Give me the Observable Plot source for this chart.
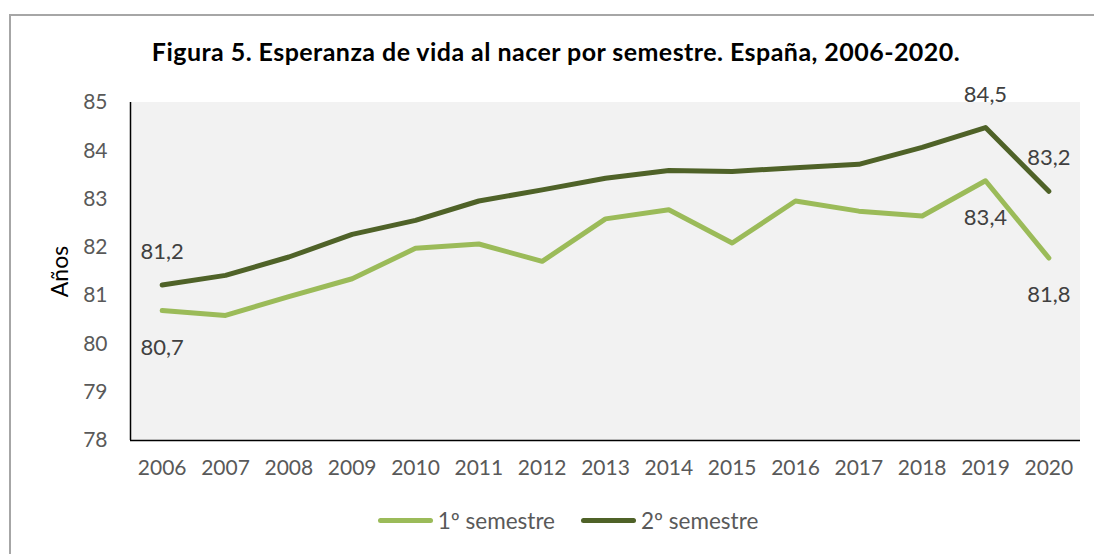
<!DOCTYPE html>
<html>
<head>
<meta charset="utf-8">
<script src="https://cdn.jsdelivr.net/npm/d3@7"></script>
<script src="https://cdn.jsdelivr.net/npm/@observablehq/plot@0.6"></script>
<style>
  html, body { margin: 0; padding: 0; background: #fff; }
  #wrap { position: relative; width: 1094px; height: 554px; overflow: hidden; font-family: Lato, "Open Sans", sans-serif; }
  #border { position: absolute; left: 9px; top: 14px; width: 1200px; height: 700px; border-top: 2px solid #A6A6A6; border-left: 2px solid #A6A6A6; box-sizing: border-box; }
  #title { position: absolute; left: 0; width: 1112px; top: 36px; text-align: center; font-weight: bold; font-size: 25px; letter-spacing: 0.45px; color: #000; white-space: nowrap; }
  #chart { position: absolute; left: 0; top: 0; }
  #legend { position: absolute; left: 0; top: 507px; width: 1094px; display: flex; justify-content: center; align-items: center; font-size: 22.5px; color: #595959; padding-left: 42px; box-sizing: border-box; }
  .item { display: flex; align-items: center; margin: 0 13px; }
  .sw { display: inline-block; width: 55px; height: 5px; border-radius: 3px; margin-right: 5px; }
</style>
</head>
<body>
<div id="wrap">
  <div id="border"></div>
  <div id="chart"></div>
  <div id="title"></div>
  <div id="legend"></div>
</div>
<script>
const titleText = "Figura 5. Esperanza de vida al nacer por semestre. España, 2006-2020.";
const years = [2006, 2007, 2008, 2009, 2010, 2011, 2012, 2013, 2014, 2015, 2016, 2017, 2018, 2019, 2020];
const seriesNames = ["1º semestre", "2º semestre"];
const seriesColors = ["#9BBB59", "#4F6228"];
const sem1 = [80.69, 80.59, 80.98, 81.35, 81.98, 82.07, 81.71, 82.59, 82.78, 82.09, 82.96, 82.75, 82.65, 83.38, 81.78];
const sem2 = [81.22, 81.42, 81.80, 82.27, 82.56, 82.96, 83.19, 83.43, 83.59, 83.57, 83.65, 83.72, 84.07, 84.48, 83.16];
const yTicks = [78, 79, 80, 81, 82, 83, 84, 85];
const yLabel = "Años";
const labeledYears = [2006, 2019, 2020];

const rows = [];
[sem1, sem2].forEach((vals, s) => vals.forEach((v, i) => rows.push({year: years[i], value: v, series: seriesNames[s]})));

const labelRows = rows.filter(d => labeledYears.includes(d.year));
const fmt = v => v.toFixed(1).replace(".", ",");

const xDomain = [years[0] - 0.5, years[years.length - 1] + 0.5];
const yDomain = [yTicks[0], yTicks[yTicks.length - 1]];

const chart = Plot.plot({
  width: 1094,
  height: 554,
  marginLeft: 130,
  marginRight: 14,
  marginTop: 102,
  marginBottom: 114,
  style: { fontFamily: "Lato, 'Open Sans', sans-serif", background: "transparent", overflow: "visible" },
  x: { domain: xDomain },
  y: { domain: yDomain },
  color: { domain: seriesNames, range: seriesColors },
  marks: [
    Plot.rect([0], { x1: xDomain[0], x2: xDomain[1], y1: yDomain[0], y2: yDomain[1], fill: "#F2F2F2" }),
    Plot.ruleX([xDomain[0]], { stroke: "#000", strokeWidth: 1.5 }),
    Plot.ruleY([yDomain[0]], { stroke: "#000", strokeWidth: 1.5 }),
    Plot.axisY({ ticks: yTicks, tickSize: 0, tickPadding: 23, fontSize: 21, fill: "#595959", label: null, tickFormat: d => String(d) }),
    Plot.axisX({ ticks: years, tickSize: 0, tickPadding: 20, fontSize: 21, fill: "#595959", label: null, tickFormat: d => String(d) }),
    Plot.text([yLabel], { frameAnchor: "left", textAnchor: "middle", dx: -70, rotate: -90, fontSize: 23, fill: "#000" }),
    Plot.line(rows, { x: "year", y: "value", z: "series", stroke: "series", strokeWidth: 5, strokeLinecap: "round", strokeLinejoin: "round" }),
    Plot.text(labelRows.filter(d => d.series === seriesNames[1]), { x: "year", y: "value", text: d => fmt(d.value), dy: -33, fontSize: 22, fill: "#404040" }),
    Plot.text(labelRows.filter(d => d.series === seriesNames[0]), { x: "year", y: "value", text: d => fmt(d.value), dy: 37, fontSize: 22, fill: "#404040" })
  ]
});
document.getElementById("chart").appendChild(chart);
document.getElementById("title").textContent = titleText;

const legend = document.getElementById("legend");
seriesNames.forEach((n, i) => {
  const item = document.createElement("span");
  item.className = "item";
  const sw = document.createElement("span");
  sw.className = "sw";
  sw.style.background = seriesColors[i];
  item.appendChild(sw);
  item.appendChild(document.createTextNode(n));
  legend.appendChild(item);
});
</script>
</body>
</html>
